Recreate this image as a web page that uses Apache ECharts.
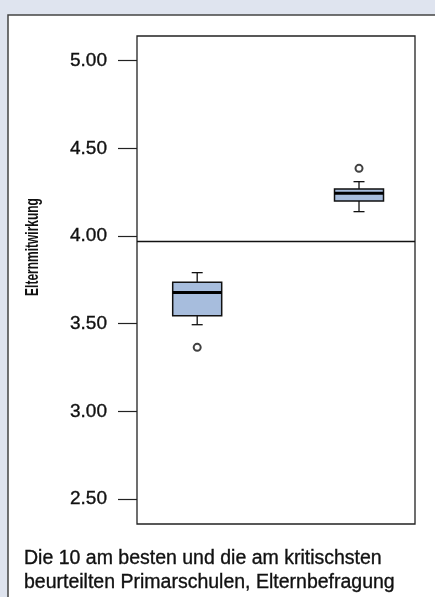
<!DOCTYPE html>
<html>
<head>
<meta charset="utf-8">
<script src="https://cdn.jsdelivr.net/npm/echarts@6/dist/echarts.min.js"></script>
<style>
  html, body { margin: 0; padding: 0; background: #dfe4ef; }
  #chart { width: 435px; height: 597px; }
</style>
</head>
<body>
<div id="chart"></div>
<script>
// Two groups of schools, parent survey scores
const groups = ['Am besten beurteilt', 'Am kritischsten beurteilt'];
const whiskerLow = [3.494, 4.139];
const quartile1 = [3.545, 4.200];
const medians = [3.677, 4.244];
const quartile3 = [3.736, 4.268];
const whiskerHigh = [3.791, 4.310];
const outliers = [3.365, 4.386];
const referenceValue = 3.971;
const yTicks = [2.5, 3.0, 3.5, 4.0, 4.5, 5.0];

const fontFamily = '"Liberation Sans", Arial, Helvetica, sans-serif';
const inkColor = '#111';
// a hairline outline in the text colour gives a medium-weight look
const textWeight = { textBorderColor: inkColor, textBorderWidth: 0.35 };

const boxData = groups.map((g, i) => [i, whiskerLow[i], quartile1[i], medians[i], quartile3[i], whiskerHigh[i]]);
const outlierData = groups.map((g, i) => [i, outliers[i]]);

const chart = echarts.init(document.getElementById('chart'), null, { renderer: 'canvas' });

function renderBox(params, api) {
  const x = api.value(0);
  const lo = api.coord([x, api.value(1)]);
  const q1 = api.coord([x, api.value(2)]);
  const md = api.coord([x, api.value(3)]);
  const q3 = api.coord([x, api.value(4)]);
  const hi = api.coord([x, api.value(5)]);
  const cx = lo[0];
  const halfBox = 24.5;
  const halfCap = 5.5;
  const stroke = { stroke: '#111', lineWidth: 1.3 };
  return {
    type: 'group',
    children: [
      { type: 'line', shape: { x1: cx, y1: hi[1], x2: cx, y2: q3[1] }, style: stroke },
      { type: 'line', shape: { x1: cx, y1: q1[1], x2: cx, y2: lo[1] }, style: stroke },
      { type: 'line', shape: { x1: cx - halfCap, y1: hi[1], x2: cx + halfCap, y2: hi[1] }, style: stroke },
      { type: 'line', shape: { x1: cx - halfCap, y1: lo[1], x2: cx + halfCap, y2: lo[1] }, style: stroke },
      {
        type: 'rect',
        shape: { x: cx - halfBox, y: q3[1], width: halfBox * 2, height: q1[1] - q3[1] },
        style: { fill: '#a7bddd', stroke: '#111', lineWidth: 1.5 }
      },
      { type: 'line', shape: { x1: cx - halfBox, y1: md[1], x2: cx + halfBox, y2: md[1] }, style: { stroke: '#000', lineWidth: 3 } }
    ]
  };
}

chart.setOption({
  backgroundColor: '#dfe4ef',
  animation: false,
  graphic: [
    {
      type: 'rect',
      z: -10,
      shape: { x: 8, y: 15, width: 600, height: 800 },
      style: { fill: '#ffffff', stroke: '#444', lineWidth: 1.5 }
    },
    {
      // axis title, set in a narrow (condensed) cut
      type: 'text',
      x: 33,
      y: 247,
      rotation: Math.PI / 2,
      scaleX: 0.63,
      style: {
        text: 'Elternmitwirkung',
        font: 'bold 19px ' + fontFamily,
        fill: inkColor,
        align: 'center',
        verticalAlign: 'middle'
      }
    }
  ],
  title: {
    text: 'Die 10 am besten und die am kritischsten\nbeurteilten Primarschulen, Elternbefragung',
    left: 24,
    top: 547,
    padding: 0,
    textStyle: Object.assign({
      fontFamily: fontFamily,
      fontSize: 19.5,
      fontWeight: 'normal',
      color: inkColor,
      lineHeight: 24
    }, textWeight)
  },
  grid: {
    left: 137,
    top: 36,
    right: 20,
    bottom: 73,
    show: true,
    borderColor: '#222',
    borderWidth: 1.3,
    backgroundColor: '#fff'
  },
  xAxis: {
    type: 'value',
    min: -0.372,
    max: 1.346,
    show: false
  },
  yAxis: {
    type: 'value',
    min: 2.357,
    max: 5.141,
    splitLine: { show: false },
    axisLine: { show: false, onZero: false },
    axisTick: {
      show: true,
      inside: false,
      length: 19,
      customValues: yTicks,
      lineStyle: { color: '#222', width: 1.2 }
    },
    axisLabel: Object.assign({
      customValues: yTicks,
      margin: 30,
      color: inkColor,
      fontFamily: fontFamily,
      fontSize: 19,
      formatter: v => v.toFixed(2)
    }, textWeight)
  },
  series: [
    {
      type: 'custom',
      renderItem: renderBox,
      data: boxData,
      z: 3,
      markLine: {
        silent: true,
        symbol: 'none',
        label: { show: false },
        lineStyle: { color: '#111', width: 1.3, type: 'solid' },
        data: [{ yAxis: referenceValue }]
      }
    },
    {
      type: 'scatter',
      data: outlierData,
      symbol: 'emptyCircle',
      symbolSize: 7,
      itemStyle: { color: '#111', borderColor: '#111', borderWidth: 1.2 },
      z: 4
    }
  ]
});
</script>
</body>
</html>
